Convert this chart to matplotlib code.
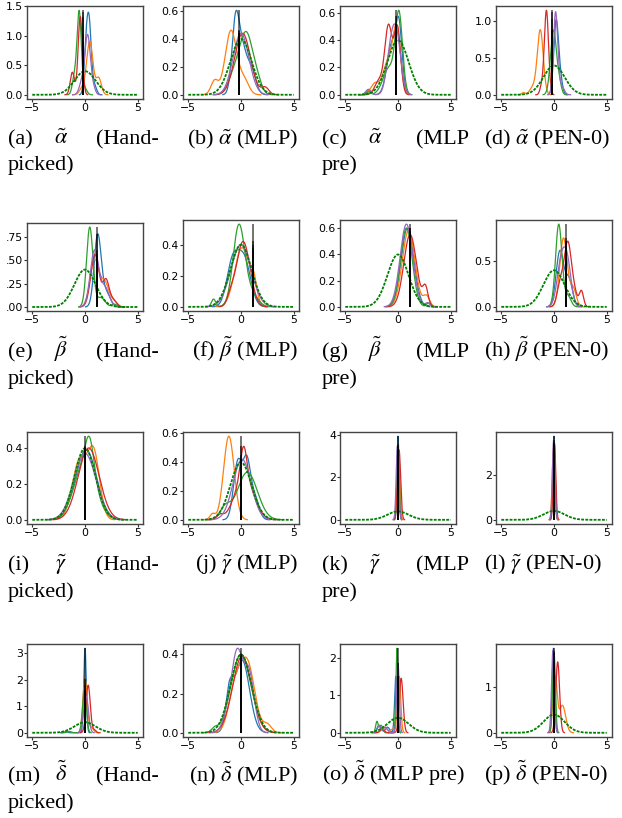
import numpy as np
import matplotlib
matplotlib.use("Agg")
import matplotlib.pyplot as plt

plt.rcParams["mathtext.fontset"] = "stix"

W, H = 622, 818
colors = ["tab:blue", "tab:orange", "tab:green", "tab:red", "tab:purple"]

# prior drawn as dotted green line
prior_mu, prior_sd = 0.0, 1.0
prior_x = [-5.0, 5.0]

# each curve: list of bumps (centre, width, height)
# order of curves: blue, orange, green, red, purple
bumps_a = [[(0.4, 0.2, 1.15), (0.1, 0.18, 0.7), (0.9, 0.2, 0.15)],
           [(0.45, 0.3, 0.9), (1.3, 0.25, 0.28), (-0.3, 0.25, 0.1)],
           [(-0.55, 0.2, 1.4), (-1.0, 0.2, 0.3), (0.0, 0.2, 0.1)],
           [(-0.45, 0.2, 1.32), (-1.2, 0.2, 0.38)],
           [(0.25, 0.26, 1.0), (-0.3, 0.25, 0.2), (0.8, 0.2, 0.1)]]
bumps_b = [[(-0.5, 0.35, 0.55), (0.15, 0.35, 0.25), (0.9, 0.45, 0.2)],
           [(-0.95, 0.55, 0.46), (-2.5, 0.35, 0.1), (0.3, 0.45, 0.1)],
           [(0.5, 0.65, 0.44), (-0.7, 0.55, 0.12), (1.6, 0.4, 0.06)],
           [(0.15, 0.75, 0.44), (2.3, 0.35, 0.05)],
           [(0.0, 0.75, 0.44)]]
bumps_c = [[(0.1, 0.3, 0.45), (-0.6, 0.45, 0.36), (-2.8, 0.25, 0.03)],
           [(-0.1, 0.35, 0.44), (-0.9, 0.5, 0.25), (-2.2, 0.4, 0.08)],
           [(0.1, 0.33, 0.55), (-0.8, 0.6, 0.2), (-2.8, 0.2, 0.02)],
           [(-0.9, 0.35, 0.5), (-0.05, 0.3, 0.48), (-1.8, 0.4, 0.1)],
           [(-0.1, 0.4, 0.38), (-0.7, 0.4, 0.3), (-2.8, 0.25, 0.04)]]
bumps_d = [[(0.2, 0.22, 1.0), (0.6, 0.2, 0.2)],
           [(-1.3, 0.28, 0.88), (-2.0, 0.3, 0.1), (-2.9, 0.15, 0.03)],
           [(-0.05, 0.28, 0.88), (0.5, 0.2, 0.15)],
           [(-0.72, 0.2, 1.15), (-1.2, 0.15, 0.1)],
           [(0.15, 0.2, 1.12), (0.7, 0.25, 0.12)]]
bumps_e = [[(1.2, 0.33, 0.76), (2.0, 0.4, 0.15)],
           [(0.9, 0.42, 0.5), (1.9, 0.4, 0.25), (2.8, 0.3, 0.05)],
           [(0.45, 0.3, 0.85), (1.5, 0.4, 0.1), (2.8, 0.25, 0.03)],
           [(0.95, 0.4, 0.56), (2.0, 0.3, 0.28), (2.7, 0.3, 0.07)],
           [(0.9, 0.4, 0.6), (1.9, 0.4, 0.2)]]
bumps_f = [[(-0.8, 0.55, 0.28), (0.3, 0.6, 0.3)],
           [(0.1, 0.7, 0.38), (1.2, 0.3, 0.12)],
           [(-0.2, 0.55, 0.52), (-2.6, 0.2, 0.05), (1.0, 0.6, 0.08)],
           [(0.2, 0.65, 0.42), (-1.0, 0.3, 0.05)],
           [(0.0, 0.95, 0.4)]]
bumps_g = [[(0.9, 0.6, 0.6)],
           [(1.0, 0.6, 0.58), (2.7, 0.3, 0.08)],
           [(0.8, 0.55, 0.6), (2.9, 0.2, 0.03)],
           [(1.15, 0.6, 0.55), (2.6, 0.25, 0.14)],
           [(0.8, 0.6, 0.63), (2.8, 0.2, 0.03)]]
bumps_h = [[(0.55, 0.35, 0.6), (1.4, 0.35, 0.3)],
           [(0.9, 0.35, 0.75), (1.8, 0.3, 0.2)],
           [(0.45, 0.3, 0.9), (1.3, 0.3, 0.12)],
           [(1.3, 0.33, 0.68), (0.6, 0.3, 0.25), (1.9, 0.3, 0.15), (2.6, 0.2, 0.17)],
           [(0.7, 0.4, 0.5), (1.3, 0.35, 0.4)]]
bumps_i = [[(0.1, 1.0, 0.39)],
           [(-0.5, 0.7, 0.33), (0.85, 0.55, 0.35)],
           [(0.45, 0.4, 0.17), (0.0, 1.0, 0.32)],
           [(0.35, 1.0, 0.4)],
           [(0.0, 1.05, 0.37)]]
bumps_j = [[(-0.3, 0.4, 0.4), (0.55, 0.35, 0.38), (1.3, 0.4, 0.15)],
           [(-1.15, 0.5, 0.58), (-2.7, 0.25, 0.04)],
           [(0.6, 0.95, 0.33), (-1.5, 0.5, 0.08)],
           [(0.25, 0.3, 0.22), (0.3, 0.9, 0.29), (-2.0, 0.3, 0.03)],
           [(0.1, 0.85, 0.42)]]
bumps_k = [[(0.0, 0.1, 3.95)],
           [(0.05, 0.12, 3.2)],
           [(0.0, 0.1, 3.6)],
           [(0.1, 0.15, 3.3)],
           [(-0.05, 0.12, 3.5)]]
bumps_l = [[(0.0, 0.1, 3.75)],
           [(-0.05, 0.12, 3.2)],
           [(0.0, 0.11, 3.5)],
           [(0.05, 0.12, 3.4)],
           [(-0.03, 0.12, 3.6)]]
bumps_m = [[(0.0, 0.12, 3.2), (-1.8, 0.15, 0.05)],
           [(0.0, 0.2, 2.05), (0.6, 0.2, 0.2)],
           [(-0.05, 0.18, 1.6), (-1.5, 0.2, 0.05)],
           [(0.3, 0.2, 1.8), (0.9, 0.15, 0.1)],
           [(0.1, 0.22, 1.4)]]
bumps_n = [[(0.1, 0.7, 0.37), (-1.1, 0.35, 0.18)],
           [(0.6, 0.7, 0.35), (-0.6, 0.6, 0.2), (2.5, 0.4, 0.04)],
           [(0.0, 0.95, 0.4), (-2.5, 0.3, 0.02)],
           [(0.1, 0.9, 0.39)],
           [(-0.35, 0.5, 0.38), (0.75, 0.5, 0.3), (-1.2, 0.5, 0.1)]]
bumps_o = [[(-0.2, 0.12, 1.5), (-1.8, 0.2, 0.2), (-1.0, 0.2, 0.15)],
           [(0.1, 0.15, 1.5), (-1.3, 0.25, 0.15), (-0.5, 0.2, 0.1)],
           [(-0.1, 0.1, 2.25), (-2.0, 0.12, 0.3), (-1.6, 0.15, 0.2)],
           [(0.3, 0.18, 1.45), (-1.5, 0.2, 0.1)],
           [(0.0, 0.12, 1.85), (-1.8, 0.15, 0.2), (-1.2, 0.2, 0.15)]]
bumps_p = [[(-0.05, 0.12, 1.85)],
           [(0.1, 0.2, 1.2), (0.8, 0.3, 0.6)],
           [(0.0, 0.13, 1.75)],
           [(0.35, 0.18, 1.55)],
           [(-0.1, 0.13, 1.8)]]

# true parameter value (black line) per panel
truth = [-0.2, -0.2, -0.2, -0.2,
         1.1, 1.1, 1.1, 1.1,
         0.0, 0.0, 0.0, 0.0,
         0.0, 0.0, 0.0, 0.0]

yticks = [[0, 0.5, 1.0, 1.5], [0, 0.2, 0.4, 0.6], [0, 0.2, 0.4, 0.6], [0, 0.5, 1.0],
          [0, 0.25, 0.5, 0.75], [0, 0.2, 0.4], [0, 0.2, 0.4, 0.6], [0, 0.5],
          [0, 0.2, 0.4], [0, 0.2, 0.4, 0.6], [0, 2, 4], [0, 2],
          [0, 1, 2, 3], [0, 0.2, 0.4], [0, 1, 2], [0, 1]]
ylabels = [["0.0", "0.5", "1.0", "1.5"], ["0.0", "0.2", "0.4", "0.6"],
           ["0.0", "0.2", "0.4", "0.6"], ["0.0", "0.5", "1.0"],
           [".00", ".25", ".50", ".75"], ["0.0", "0.2", "0.4"],
           ["0.0", "0.2", "0.4", "0.6"], ["0.0", "0.5"],
           ["0.0", "0.2", "0.4"], ["0.0", "0.2", "0.4", "0.6"], ["0", "2", "4"], ["0", "2"],
           ["0", "1", "2", "3"], ["0.0", "0.2", "0.4"], ["0", "1", "2"], ["0", "1"]]
xticks = [-5, 0, 5]
xlabels = ["\u22125", "0", "5"]

params = [r"$\tilde{\alpha}$", r"$\tilde{\beta}$", r"$\tilde{\gamma}$", r"$\tilde{\delta}$"]
letters = "abcdefghijklmnop"

all_bumps = [bumps_a, bumps_b, bumps_c, bumps_d, bumps_e, bumps_f, bumps_g, bumps_h,
             bumps_i, bumps_j, bumps_k, bumps_l, bumps_m, bumps_n, bumps_o, bumps_p]

# axes placement in pixels (left, top, bottom)
col_left = [27, 183, 340, 496]
ax_w = 116
row_top = [[6, 6, 6, 6], [223, 220, 220, 220], [432, 432, 432, 432], [644, 644, 644, 644]]
row_bot = [99, 311, 524, 737]
base1 = [144, 357, 570, 781]
base2 = [170, 384, 597, 808]


def curve(bumps):
    lo = min(c - 3.5 * w for c, w, h in bumps)
    hi = max(c + 3.5 * w for c, w, h in bumps)
    x = np.linspace(lo, hi, 300)
    y = np.zeros_like(x)
    for c, w, h in bumps:
        y += h * np.exp(-0.5 * ((x - c) / w) ** 2)
    return x, y


fig = plt.figure(figsize=(W / 100, H / 100), dpi=100)
serif = "Liberation Serif"
fs = 16

for k in range(16):
    r, c = divmod(k, 4)
    top = row_top[r][c]
    bot = row_bot[r]
    ax = fig.add_axes([col_left[c] / W, 1 - bot / H, ax_w / W, (bot - top) / H])
    maxes = []
    for bumps, col in zip(all_bumps[k], colors):
        x, y = curve(bumps)
        ax.plot(x, y, color=col, lw=0.9)
        maxes.append(y.max())
    px = np.linspace(prior_x[0], prior_x[1], 400)
    py = np.exp(-0.5 * ((px - prior_mu) / prior_sd) ** 2) / (prior_sd * np.sqrt(2 * np.pi))
    ax.plot(px, py, color="green", ls=(0, (1.6, 0.7)), lw=1.3)
    for m in maxes:
        ax.vlines(truth[k], 0, m, color="black", lw=1.4, alpha=0.55)
    ax.set_xticks(xticks)
    ax.set_xticklabels(xlabels)
    ax.set_yticks(yticks[k])
    ax.set_yticklabels(ylabels[k])
    ax.tick_params(labelsize=7.8, length=2, pad=1, width=0.8, color="#333333")
    for s in ax.spines.values():
        s.set_color("#444444")
        s.set_linewidth(1.0)

    p = params[r]
    letter = letters[k]
    if c == 0 or c == 2:
        x0 = 8 if c == 0 else 322
        x1 = 159 if c == 0 else 469
        xm = 61 if c == 0 else 375
        last = "(Hand-" if c == 0 else "(MLP"
        second = "picked)" if c == 0 else "pre)"
        if k == 14:
            fig.text(x0 / W, 1 - base1[r] / H, "(o) " + p + " (MLP pre)",
                     family=serif, fontsize=fs, ha="left", va="baseline")
            continue
        fig.text(x0 / W, 1 - base1[r] / H, "(%s)" % letter, family=serif,
                 fontsize=fs, ha="left", va="baseline")
        fig.text(xm / W, 1 - base1[r] / H, p, family=serif,
                 fontsize=fs, ha="center", va="baseline")
        fig.text(x1 / W, 1 - base1[r] / H, last, family=serif,
                 fontsize=fs, ha="right", va="baseline")
        fig.text(x0 / W, 1 - base2[r] / H, second, family=serif,
                 fontsize=fs, ha="left", va="baseline")
    elif c == 1:
        fig.text(298 / W, 1 - base1[r] / H, "(%s) %s (MLP)" % (letter, p),
                 family=serif, fontsize=fs, ha="right", va="baseline")
    else:
        fig.text(484 / W, 1 - base1[r] / H, "(%s) %s (PEN-0)" % (letter, p),
                 family=serif, fontsize=fs, ha="left", va="baseline")

fig.savefig("out.png", dpi=100)
